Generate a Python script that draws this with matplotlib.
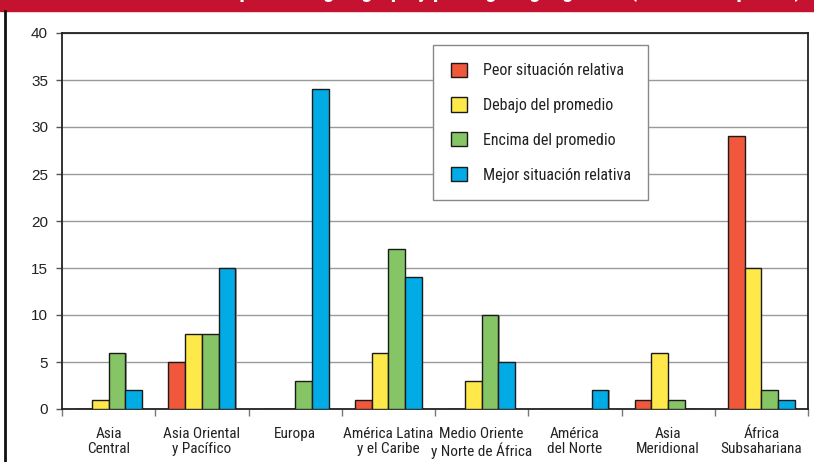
import matplotlib
matplotlib.use("Agg")
import matplotlib.pyplot as plt
import numpy as np
from matplotlib.patches import Rectangle
from matplotlib.lines import Line2D

categories = ["Asia\nCentral", "Asia Oriental\ny Pacífico", "Europa", "América Latina\ny el Caribe",
              "Medio Oriente\ny Norte de África", "América\ndel Norte", "Asia\nMeridional", "África\nSubsahariana"]
series_names = ["Peor situación relativa", "Debajo del promedio", "Encima del promedio", "Mejor situación relativa"]
peor = [0, 5, 0, 1, 0, 0, 1, 29]
debajo = [1, 8, 0, 6, 3, 0, 6, 15]
encima = [6, 8, 3, 17, 10, 0, 1, 2]
mejor = [2, 15, 34, 14, 5, 2, 0, 1]
colors = ["#F0573B", "#FFE84A", "#86C566", "#00ABE6"]
title = "Distribución de los países según grupo y por región geográfica (número de países)"

plt.rcParams['font.family'] = ['Roboto Condensed', 'DejaVu Sans']

fig = plt.figure(figsize=(8.14, 4.62), dpi=100)
ax = fig.add_axes([62/814, 1-409/462, (808-62)/814, (409-33)/462])

x = np.arange(len(categories))
w = 0.18
data = [peor, debajo, encima, mejor]
for i, (vals, c, name) in enumerate(zip(data, colors, series_names)):
    offs = (i - 1.5) * w
    ax.bar(x + offs + 0.012, vals, w, color="#a0a0a0", edgecolor="none", zorder=2.5)
    ax.bar(x + offs, vals, w, color=c, edgecolor="#1a1a1a", linewidth=1.0, zorder=3, label=name)

ax.set_xlim(-0.5, len(categories) - 0.5)
ax.set_ylim(0, 40)
ax.set_yticks(range(0, 41, 5))
ax.yaxis.grid(True, color="#9a9a9a", linewidth=1.0, zorder=0)
ax.set_axisbelow(True)
ax.tick_params(axis='y', length=4, width=1, color="#555555", pad=6)
for lab in ax.get_yticklabels():
    lab.set_fontfamily('Liberation Sans')
    lab.set_fontsize(11)
    lab.set_color("#222222")
ax.set_xticks(np.arange(len(categories) + 1) - 0.5, minor=False)
ax.set_xticklabels([""] * (len(categories) + 1))
ax.tick_params(axis='x', which='major', length=5, width=1, color="#777777", direction='out')
ax.set_xticks(x, minor=True)
ax.set_xticklabels(categories, minor=True, fontsize=11, linespacing=1.1, color="#222222")
ax.tick_params(axis='x', which='minor', length=0, pad=13)
for s in ax.spines.values():
    s.set_color("#222222")
    s.set_linewidth(1.3)

leg = ax.legend(loc='upper left', bbox_to_anchor=((433-62)/746, (409-45)/376), fontsize=11.5,
                frameon=True, fancybox=False, edgecolor="#888888", framealpha=1,
                handlelength=1.0, handleheight=1.0, handletextpad=1.0, labelspacing=1.2,
                borderpad=1.1, borderaxespad=0, labelcolor="#222222")
leg.get_frame().set_linewidth(1.0)
for p in leg.get_patches():
    p.set_edgecolor("#1a1a1a")

fig.patches.append(Rectangle((0, 1 - 11/462), 1, 11/462, transform=fig.transFigure,
                             color="#C41230", zorder=0))
fig.lines.append(Line2D([5/814, 5/814], [0, 1 - 11/462], transform=fig.transFigure,
                        color="#111111", linewidth=2))
fig.text(0.985, 1 + 3.5/462, title, color="white", fontsize=16, fontweight='bold',
         ha='right', va='baseline', zorder=5)

fig.savefig("out.png", dpi=100)
